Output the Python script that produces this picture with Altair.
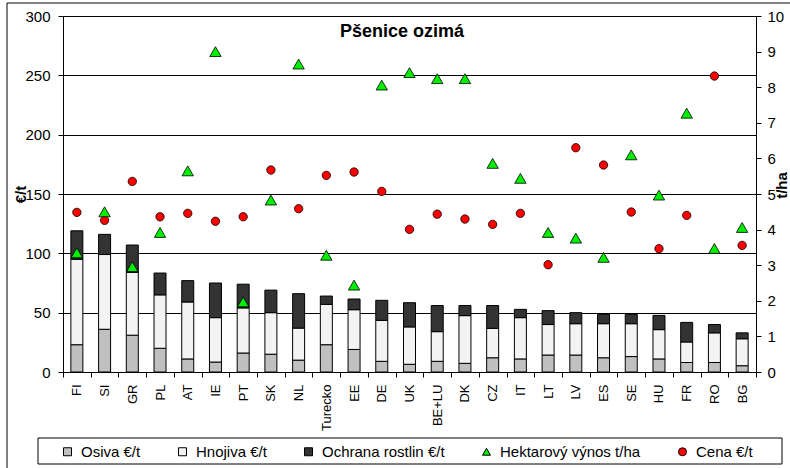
import altair as alt
import pandas as pd

countries = ["FI", "SI", "GR", "PL", "AT", "IE", "PT", "SK", "NL", "Turecko", "EE", "DE", "UK",
             "BE+LU", "DK", "CZ", "IT", "LT", "LV", "ES", "SE", "HU", "FR", "RO", "BG"]
osiva = [23, 36, 31, 20, 11, 8.4, 16, 15, 10, 23, 19, 9, 6.5, 9, 7.3, 12, 11, 14.3, 14.3, 12, 13, 11, 8, 8, 5.3]
hnojiva = [72, 63, 53, 45, 48, 37.4, 38, 35, 27, 34, 33.5, 34.5, 31.5, 25, 40.2, 24.8, 34.8, 25.7, 26.4, 28.7, 27.7, 24.7, 17.3, 25, 22.7]
ochrana = [24, 17, 23, 18.4, 18, 29.2, 20, 19, 29, 7, 9, 16.9, 20.4, 22, 8.5, 19.2, 7, 11.7, 9.3, 7.9, 7.9, 12, 16.5, 7, 5]
cena = [134.5, 127.8, 160.6, 130.8, 133.7, 127, 130.8, 170.2, 137.6, 165.7, 168.5, 152.2, 120.2,
        133, 128.9, 124.4, 133.7, 90.4, 189, 174.4, 134.8, 103.9, 132, 249.4, 106.7]
vynos = [3.35, 4.5, 2.96, 3.92, 5.65, 9.0, 1.97, 4.83, 8.65, 3.28, 2.44, 8.06, 8.41,
         8.24, 8.24, 5.86, 5.44, 3.92, 3.76, 3.22, 6.1, 4.97, 7.27, 3.47, 4.06]

S_OS, S_HN, S_OC = "Osiva €/t", "Hnojiva €/t", "Ochrana rostlin €/t"
S_HV, S_CE = "Hektarový výnos t/ha", "Cena €/t"
series = [S_OS, S_HN, S_OC, S_HV, S_CE]
colors = ["#c0c0c0", "#f3f3f3", "#333333", "#00ee00", "#ff0000"]
shapes = ["square", "square", "square", "triangle-up", "circle"]
outlines = ["black", "black", "black", "black", "black"]
title_text = ["Pšenice ozimá"]

FONT = "Liberation Sans, Arial, sans-serif"

rows = []
for i, c in enumerate(countries):
    rows.append({"country": c, "series": S_OS, "value": osiva[i], "ord": 0})
    rows.append({"country": c, "series": S_HN, "value": hnojiva[i], "ord": 1})
    rows.append({"country": c, "series": S_OC, "value": ochrana[i], "ord": 2})
bars_df = pd.DataFrame(rows)
price_df = pd.DataFrame({"country": countries, "value": cena, "series": S_CE})
yield_df = pd.DataFrame({"country": countries, "value": vynos, "series": S_HV})

legend = alt.Legend(
    title=None, orient="none", legendX=-3, legendY=428, direction="horizontal", columns=5,
    columnPadding=34, labelFontSize=15, labelFont=FONT, labelColor="black", labelOffset=6,
    symbolSize=64, symbolStrokeColor="black", symbolStrokeWidth=1, symbolOpacity=1, padding=0,
)
color = alt.Color("series:N", scale=alt.Scale(domain=series, range=colors), legend=legend)
shape = alt.Shape("series:N", scale=alt.Scale(domain=series, range=shapes), legend=legend)
stroke = alt.Stroke("series:N", scale=alt.Scale(domain=series, range=outlines), legend=legend)

x = alt.X(
    "country:N", sort=countries, title=None,
    scale=alt.Scale(paddingInner=0, paddingOuter=0),
    axis=alt.Axis(labelAngle=270, labelAlign="right", labelBaseline="middle", tickBand="extent",
                  labelFontSize=13, labelFont=FONT, labelColor="black", tickSize=5, labelPadding=7,
                  domainColor="black", tickColor="black", grid=False, labelOverlap=False),
)

yleft = alt.Y(
    "value:Q", stack="zero", title="€/t",
    scale=alt.Scale(domain=[0, 300], nice=False),
    axis=alt.Axis(values=[0, 50, 100, 150, 200, 250, 300], grid=True, gridColor="black", gridWidth=1,
                  titleAngle=270, titleX=-43, titleY=178, titleAlign="center", titleBaseline="middle",
                  titleFontSize=15, titleFontWeight="bold", titleFont=FONT, titleColor="black",
                  labelFontSize=15, labelFont=FONT, labelColor="black", tickSize=5, labelPadding=8,
                  domainColor="black", tickColor="black"),
)

bars = alt.Chart(bars_df).mark_bar(size=12, strokeWidth=1).encode(
    x=x, y=yleft, color=color, stroke=stroke, order=alt.Order("ord:Q"),
)

price = alt.Chart(price_df).mark_point(filled=True, opacity=1, size=70, strokeWidth=0.8).encode(
    x=x, y=alt.Y("value:Q", scale=alt.Scale(domain=[0, 300], nice=False)),
    color=color, shape=shape, stroke=stroke,
)

title_df = pd.DataFrame({"t": title_text})
title = alt.Chart(title_df).mark_text(
    font=FONT, fontSize=18, fontWeight="bold", baseline="alphabetic", align="center", color="black"
).encode(text="t:N", x=alt.value(339), y=alt.value(21))

frame_df = pd.DataFrame({"f": [0]})
frame = alt.Chart(frame_df).mark_rect(fill="transparent", stroke="black", strokeWidth=1).encode(
    x=alt.value(-56), x2=alt.value(800), y=alt.value(-13), y2=alt.value(500)
)
legend_box = alt.Chart(frame_df).mark_rect(fill="white", stroke="black", strokeWidth=1).encode(
    x=alt.value(-25), x2=alt.value(719), y=alt.value(422), y2=alt.value(448)
)

yield_pts = alt.Chart(yield_df).mark_point(filled=True, opacity=1, size=130, strokeWidth=0.8).encode(
    x=x,
    y=alt.Y("value:Q", title="t/ha", scale=alt.Scale(domain=[0, 10], nice=False),
            axis=alt.Axis(orient="right", values=list(range(0, 11)), grid=False,
                          titleAngle=270, titleX=25, titleY=169, titleAlign="center", titleBaseline="middle",
                          titleFontSize=15, titleFontWeight="bold", titleFont=FONT, titleColor="black",
                          labelFontSize=15, labelFont=FONT, labelColor="black", tickSize=5, labelPadding=6,
                          domainColor="black", tickColor="black")),
    color=color, shape=shape, stroke=stroke,
)

left = alt.layer(frame, legend_box, bars, price, title)
chart = alt.layer(left, yield_pts).resolve_scale(y="independent").properties(
    width=693, height=356,
    autosize=alt.AutoSizeParams(type="none"),
    padding={"left": 63, "top": 16, "right": 34, "bottom": 96},
    background="white",
).configure_view(stroke=None)

chart.save("out.html", embed_options={"renderer": "svg", "actions": False})
